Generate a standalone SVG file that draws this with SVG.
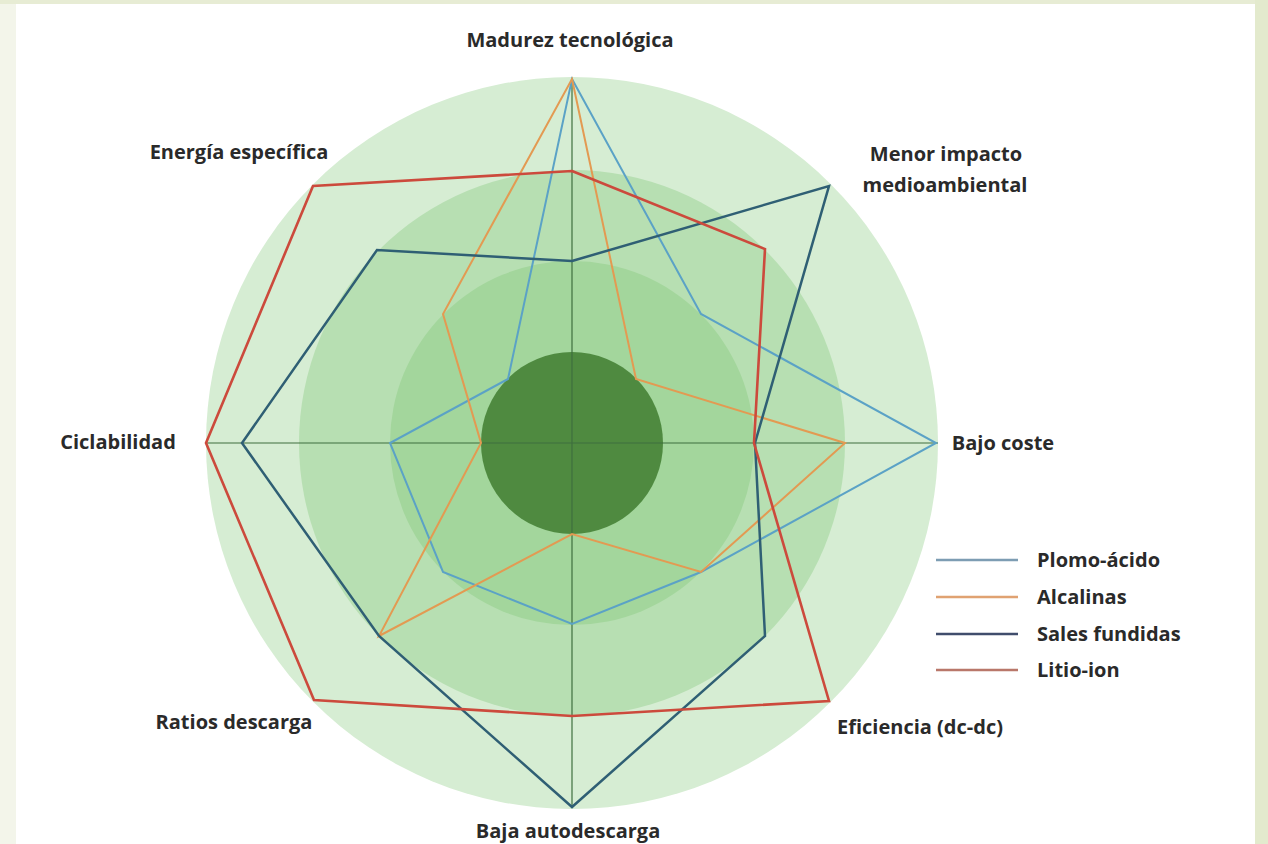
<svg xmlns="http://www.w3.org/2000/svg" width="1268" height="844" viewBox="0 0 1268 844">
<style>
.lbl{font-family:"Open Sans","Liberation Sans",sans-serif;font-weight:700;font-size:20px;fill:#2a2a2a}
.leg{font-family:"Open Sans","Liberation Sans",sans-serif;font-weight:700;font-size:20px;fill:#2a2a2a}
.ax{stroke:#3f6f3f;stroke-width:1.2;fill:none}
.s{fill:none;stroke-linejoin:miter}
.plomo{stroke:#5ba2c6;stroke-width:2}
.alc{stroke:#e39a52;stroke-width:2}
.sales{stroke:#2f5f74;stroke-width:2.5}
.litio{stroke:#cc4a3c;stroke-width:2.6}
</style>
<rect x="0" y="0" width="1268" height="844" fill="#ffffff"/>
<rect x="0" y="0" width="16" height="844" fill="#f3f5ea"/>
<rect x="0" y="0" width="1268" height="4" fill="#e7ecd4"/>
<rect x="1255" y="0" width="13" height="844" fill="#e3eacd"/>

<g id="rings">
<circle cx="572" cy="443" r="366" fill="#d6edd3"/>
<circle cx="572" cy="443" r="273" fill="#b7dfb2"/>
<circle cx="572" cy="443" r="182" fill="#a3d69c"/>
<circle cx="572" cy="443" r="91" fill="#4f8a40"/>
</g>

<g id="axes">
<line class="ax" x1="205" y1="443" x2="938" y2="443"/>
<line class="ax" x1="572" y1="78" x2="572" y2="808"/>
</g>

<g id="series">
<polygon id="plomo-acido" class="s plomo" points="572,79 701,314 936,443 701,572 572,624 443,572 390,443 508,379"/>
<polygon id="alcalinas" class="s alc" points="572,79 636,379 845,443 701,572 572,534 379,636 481,443 443,314"/>
<polygon id="sales-fundidas" class="s sales" points="572,261 829,186 755,443 765,636 572,807 379,636 242,443 377,250"/>
<polygon id="litio-ion" class="s litio" points="572,171 765,249 754,443 829,701 572,716 314,700 206,443 313,186"/>
</g>

<g id="labels">
<text class="lbl" x="570" y="47" text-anchor="middle">Madurez tecnológica</text>
<text class="lbl" x="239" y="159" text-anchor="middle">Energía específica</text>
<text class="lbl" x="946" y="161" text-anchor="middle">Menor impacto</text>
<text class="lbl" x="945" y="192" text-anchor="middle">medioambiental</text>
<text class="lbl" x="118" y="449" text-anchor="middle">Ciclabilidad</text>
<text class="lbl" x="1003" y="450" text-anchor="middle">Bajo coste</text>
<text class="lbl" x="920" y="734" text-anchor="middle">Eficiencia (dc-dc)</text>
<text class="lbl" x="234" y="729" text-anchor="middle">Ratios descarga</text>
<text class="lbl" x="568" y="838" text-anchor="middle">Baja autodescarga</text>
</g>

<g id="legend">
<line x1="936" y1="560" x2="1018" y2="560" stroke="#7d9db3" stroke-width="2.5"/>
<text class="leg" x="1037" y="567">Plomo-ácido</text>
<line x1="936" y1="597" x2="1018" y2="597" stroke="#e0a272" stroke-width="2.5"/>
<text class="leg" x="1037" y="604">Alcalinas</text>
<line x1="936" y1="634" x2="1018" y2="634" stroke="#404d6c" stroke-width="2.5"/>
<text class="leg" x="1037" y="641">Sales fundidas</text>
<line x1="936" y1="670" x2="1018" y2="670" stroke="#b9776a" stroke-width="2.5"/>
<text class="leg" x="1037" y="677">Litio-ion</text>
</g>
</svg>
